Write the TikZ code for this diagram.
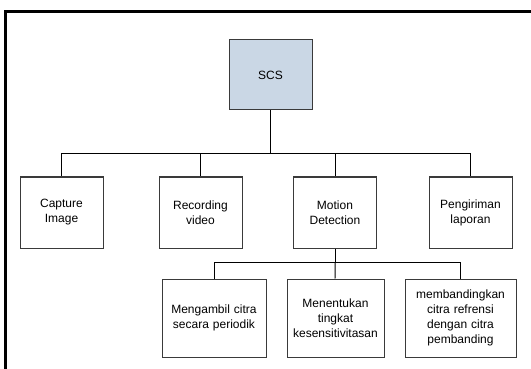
\documentclass[tikz,border=0pt]{standalone}
\usepackage{fontspec}
\setmainfont{Liberation Sans}
\definecolor{scsblue}{HTML}{CAD7E5}
\definecolor{boxline}{HTML}{3A3A3A}
\tikzset{
  box/.style={draw=boxline, line width=1pt, fill=white, inner sep=0pt, align=center,
    font=\fontsize{12}{15}\selectfont},
  lvlone/.style={box, minimum width=83pt, minimum height=71pt, text width=79pt},
  lvltwo/.style={box, minimum height=78pt}
}
\begin{document}
\begin{tikzpicture}[x=1pt,y=-1pt]
  \useasboundingbox (0,0) rectangle (531,369);
  \clip (0,0) rectangle (531,369);
  \draw[line width=3pt] (5.5,11.5) rectangle (560,400);
  \draw
    (270.5,75) node[box, fill=scsblue, minimum width=83pt, minimum height=70pt] (scs){SCS}
    (61.5,212.5) node[lvlone] (capture){Capture\\Image}
    (200.5,212.5) node[lvlone] (recording){Recording\\video}
    (335,212.5) node[lvlone] (motion){Motion\\Detection}
    (470.5,212.5) node[lvlone] (laporan){Pengiriman\\laporan}
    (214,318) node[lvltwo, minimum width=104pt, text width=100pt] (ambil){Mengambil citra\\secara periodik}
    (335.5,318) node[lvltwo, minimum width=97pt, text width=95pt] (tentukan){Menentukan\\tingkat\\kesensitivitasan}
    (460.5,318) node[lvltwo, minimum width=111pt, text width=109pt] (banding){membandingkan\\citra refrensi\\dengan citra\\pembanding};
  \coordinate (bus1) at (270.5,154);
  \coordinate (bus2) at (335,262);
  \begin{scope}[draw=black, line width=1pt]
    \draw (scs) -- (bus1);
    \draw (bus1) -| (capture);
    \draw (bus1) -| (recording);
    \draw (bus1) -| (motion);
    \draw (bus1) -| (laporan);
    \draw (motion) -- (bus2);
    \draw (bus2) -| (ambil);
    \draw (bus2) -- (tentukan);
    \draw (bus2) -| (banding);
  \end{scope}
\end{tikzpicture}
\end{document}
